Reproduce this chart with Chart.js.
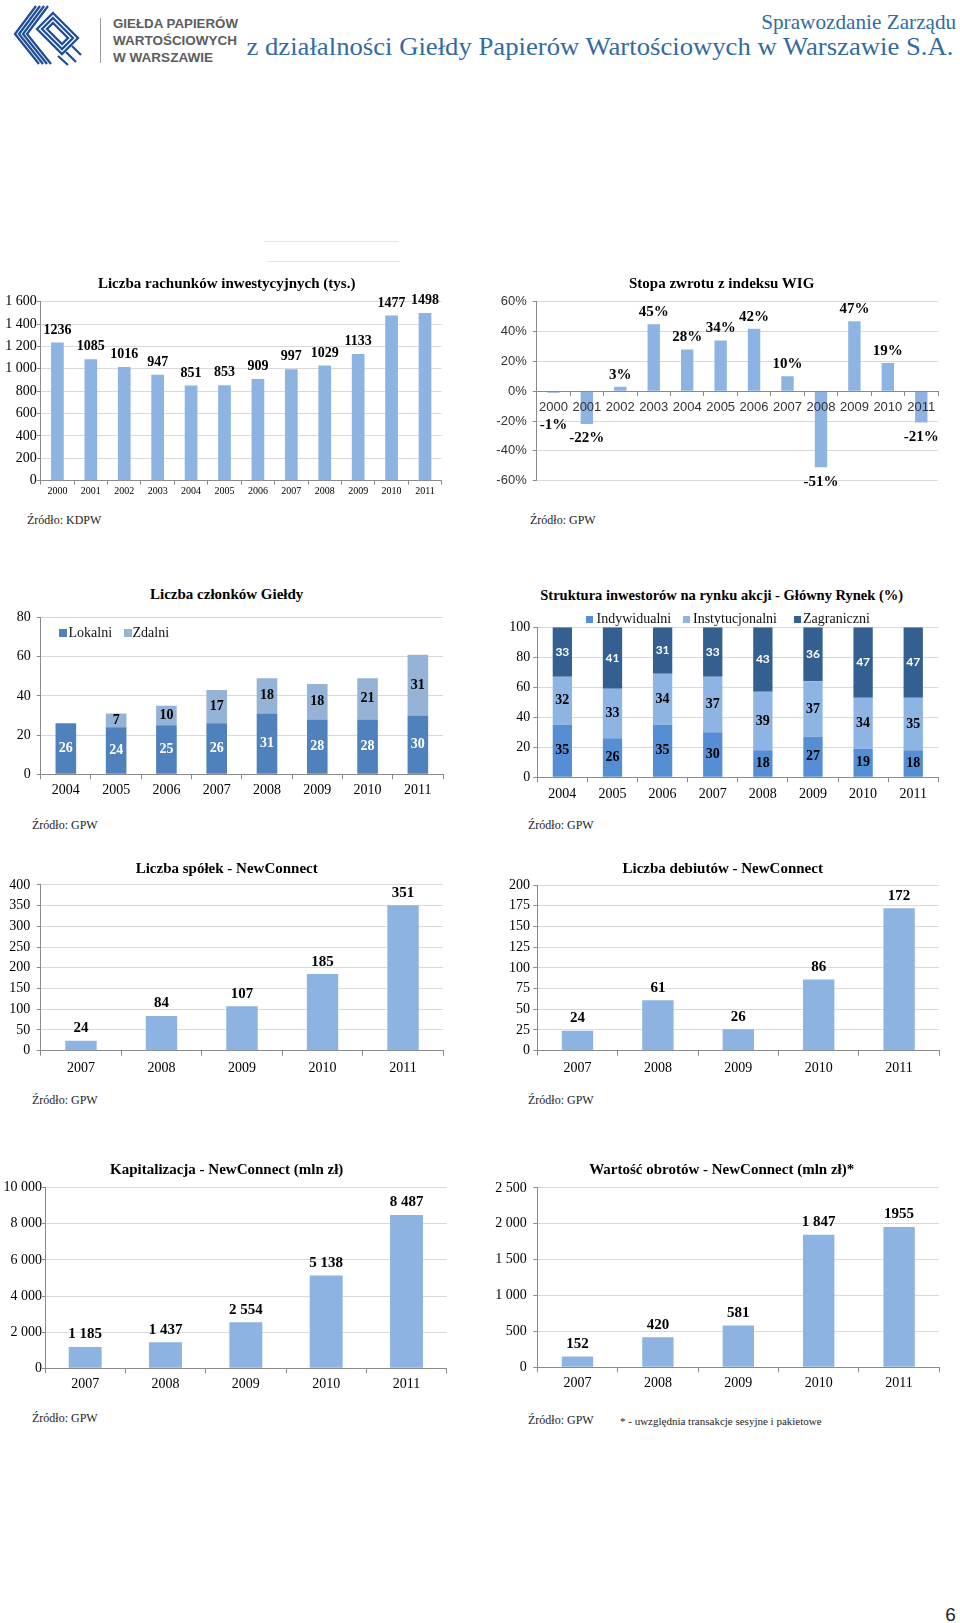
<!DOCTYPE html>
<html>
<head>
<meta charset="utf-8">
<script src="https://cdn.jsdelivr.net/npm/chart.js@4.4.1/dist/chart.umd.min.js"></script>
<style>
html,body{margin:0;padding:0;background:#fff;}
body{width:960px;height:1623px;position:relative;overflow:hidden;font-family:"Liberation Serif",serif;}
canvas{position:absolute;z-index:1;}
.t{position:absolute;white-space:nowrap;z-index:2;line-height:1;}
.sq{position:absolute;z-index:2;}
.hl{position:absolute;z-index:0;height:1px;background:#e4e4e4;}
</style>
</head>
<body>
<svg style="position:absolute;left:6px;top:2px" width="80" height="66" viewBox="0 0 80 66">
  <g fill="none" stroke="#1f4f9a" stroke-width="2.3" stroke-linejoin="miter">
    <polyline points="30,4 9,32 33,62"/>
    <polyline points="34,4 13,32 37,62"/>
    <polyline points="38,4 17,32 41,62"/>
    <polyline points="42,4 21,32 45,62"/>
    <polygon points="47,11 72,36 56,52 31,27"/>
    <polygon points="47,16 67,36 56,47 36,27"/>
    <polygon points="47,21 62,36 56,42 41,27"/>
    <polyline points="52,54 62,63"/>
    <polyline points="60,50 70,60"/>
    <polyline points="66,44 75,53"/>
  </g>
</svg>
<div style="position:absolute;left:100px;top:18px;width:1px;height:45px;background:#9a9a9a"></div>
<div class="hl" style="left:264px;top:241px;width:135px"></div>
<div class="hl" style="left:267px;top:261px;width:133px"></div>
<script>
// ---------------- DATA ----------------
const years2000 = ['2000','2001','2002','2003','2004','2005','2006','2007','2008','2009','2010','2011'];
const rachunkiTys = [1236,1085,1016,947,851,853,909,997,1029,1133,1477,1498];
const stopaZwrotuWIG = [-1,-22,3,45,28,34,42,10,-51,47,19,-21];

const years2004 = ['2004','2005','2006','2007','2008','2009','2010','2011'];
const czlonkowieLokalni = [26,24,25,26,31,28,28,30];
const czlonkowieZdalni = [0,7,10,17,18,18,21,31];

const inwIndywidualni = [35,26,35,30,18,27,19,18];
const inwInstytucjonalni = [32,33,34,37,39,37,34,35];
const inwZagraniczni = [33,41,31,33,43,36,47,47];

const years2007 = ['2007','2008','2009','2010','2011'];
const spolkiNC = [24,84,107,185,351];
const debiutyNC = [24,61,26,86,172];
const kapitalizacjaNC = [1185,1437,2554,5138,8487];
const obrotyNC = [152,420,581,1847,1955];
const obrotyNCLabels = ['152','420','581','1 847','1955'];

// ---------------- HELPERS ----------------
const AXIS = '#8a8a8a', GRID = '#d9d9d9', BAR = '#8db3e2';
const SERIF = '"Liberation Serif","Times New Roman",serif';
const SANS = '"Liberation Sans",Arial,sans-serif';
const spaced = v => String(v).replace(/\B(?=(\d{3})+(?!\d))/g, ' ');

function addText(txt, x, y, css, align, fitW) {
  const d = document.createElement('div');
  d.className = 't';
  d.textContent = txt;
  d.style.cssText += css;
  document.body.appendChild(d);
  const w = d.getBoundingClientRect().width;
  const h = d.getBoundingClientRect().height;
  let left = x;
  if (align === 'center') left = x - w / 2;
  else if (align === 'right') left = x - w;
  d.style.left = left + 'px';
  d.style.top = (y - h / 2) + 'px';
  if (fitW) {
    const k = fitW / w;
    d.style.transformOrigin = align === 'right' ? 'right center' : 'left center';
    d.style.transform = 'scaleX(' + k + ')';
  }
  return d;
}
function addSquare(x, y, s, color) {
  const d = document.createElement('div');
  d.className = 'sq';
  d.style.cssText = `left:${x}px;top:${y - s/2}px;width:${s}px;height:${s}px;background:${color}`;
  document.body.appendChild(d);
}

function labelPlugin(sets) {
  return {
    id: 'valueLabels',
    afterDatasetsDraw(chart) {
      const ctx = chart.ctx;
      const ys = chart.scales.y;
      sets.forEach(s => {
        const meta = chart.getDatasetMeta(s.index);
        const data = chart.data.datasets[s.index].data;
        meta.data.forEach((bar, i) => {
          const v = data[i];
          if (v === 0 || v == null) return;
          const text = s.text ? s.text[i] : s.fmt(v);
          let y;
          if (s.mode === 'center') y = (bar.y + bar.base) / 2;
          else if (v >= 0) y = bar.y - s.gapPos;
          else {
            y = bar.y + s.gapNeg;
            if (s.minBelowZero != null) y = Math.max(y, ys.getPixelForValue(0) + s.minBelowZero);
          }
          ctx.save();
          ctx.font = s.font;
          ctx.fillStyle = s.color;
          ctx.textAlign = 'center';
          ctx.textBaseline = 'middle';
          ctx.fillText(text, bar.x + (s.dx || 0), y);
          ctx.restore();
        });
      });
    }
  };
}

function buildChart(o) {
  const cl = o.cl, cr = o.cr, ct = Math.round(o.plot.t - o.padTop), cb = o.cb;
  const cw = cr - cl, ch = cb - ct;
  const cv = document.createElement('canvas');
  cv.width = cw; cv.height = ch;
  cv.style.cssText = `left:${cl}px;top:${ct}px;width:${cw}px;height:${ch}px`;
  document.body.appendChild(cv);
  const YW = o.plot.l - cl, XH = cb - o.plot.b, PR = cr - o.plot.r, PT = o.plot.t - ct;
  const xf = o.xFont, yf = o.yFont;
  new Chart(cv, {
    type: 'bar',
    data: { labels: o.labels, datasets: o.datasets.map(d => Object.assign({
      barPercentage: o.barPct, categoryPercentage: 1, borderWidth: 0 }, d)) },
    options: {
      responsive: false, animation: false, devicePixelRatio: 1,
      layout: { padding: { top: PT, right: PR, left: 0, bottom: o.zeroAxis ? XH : 0 } },
      plugins: { legend: { display: false }, tooltip: { enabled: false }, title: { display: false } },
      scales: {
        x: {
          stacked: !!o.stacked,
          position: o.zeroAxis ? { y: 0 } : 'bottom',
          offset: true,
          grid: { display: true, drawOnChartArea: false, drawTicks: true, tickLength: o.xTick, tickColor: AXIS, color: AXIS, offset: true, z: o.zeroAxis ? 1 : -1 },
          border: { display: true, color: AXIS, width: 1, z: o.zeroAxis ? 1 : 0 },
          ticks: { font: xf, color: o.xColor || '#000', padding: o.xPad, autoSkip: false, maxRotation: 0, minRotation: 0, z: o.zeroAxis ? 1 : 0 },
          afterFit: o.zeroAxis ? undefined : (s => { s.height = XH; })
        },
        y: {
          stacked: !!o.stacked,
          min: o.yMin, max: o.yMax,
          grid: { color: c => (c.tick && c.tick.value === 0) ? AXIS : GRID, drawTicks: true, tickLength: o.yTick, tickColor: AXIS, lineWidth: 1 },
          border: { display: true, color: AXIS, width: 1 },
          ticks: { stepSize: o.yStep, font: yf, color: o.yColor || '#000', padding: o.yPad, autoSkip: false, callback: o.yFmt },
          afterFit: s => { s.width = YW; }
        }
      }
    },
    plugins: [labelPlugin(o.valueLabels || [])]
  });
}

const TITLE = `font:bold 15px ${SERIF};color:#000;`;
const SRC = `font:12px ${SERIF};color:#222;`;

// ---------------- HEADER ----------------
const GREY = `font:bold 13px ${SANS};color:#5d5d5d;`;
addText('GIEŁDA PAPIERÓW', 113, 23, GREY, 'left', 125);
addText('WARTOŚCIOWYCH', 113, 40, GREY, 'left', 124);
addText('W WARSZAWIE', 113, 57, GREY, 'left', 100);
addText('Sprawozdanie Zarządu', 956, 22, `font:22px ${SERIF};color:#336b9f;`, 'right', 195);
addText('z działalności Giełdy Papierów Wartościowych w Warszawie S.A.', 953, 47, `font:25.5px ${SERIF};color:#336b9f;`, 'right', 707);

// ---------------- CHART 1 ----------------
addText('Liczba rachunków inwestycyjnych (tys.)', 226.7, 283, TITLE, 'center');
buildChart({
  cl: 0, cr: 470, cb: 502, padTop: 14,
  plot: { l: 40.7, t: 301.7, r: 441.7, b: 480.7 },
  labels: years2000,
  datasets: [{ data: rachunkiTys, backgroundColor: BAR }],
  barPct: 0.38,
  yMin: 0, yMax: 1600, yStep: 200, yFmt: v => spaced(v),
  yFont: { family: SERIF, size: 14 }, yTick: 4, yPad: 0,
  xFont: { family: SERIF, size: 10 }, xTick: 4, xPad: 1,
  valueLabels: [{ index: 0, fmt: v => String(v), font: `bold 14px ${SERIF}`, color: '#000', gapPos: 12.5 }]
});
addText('Źródło: KDPW', 27, 520, SRC, 'left');

// ---------------- CHART 2 ----------------
addText('Stopa zwrotu z indeksu WIG', 721.7, 283, TITLE, 'center');
buildChart({
  cl: 480, cr: 960, cb: 496, padTop: 14, zeroAxis: true,
  plot: { l: 536.7, t: 301.7, r: 938, b: 480.7 },
  labels: years2000,
  datasets: [{ data: stopaZwrotuWIG, backgroundColor: BAR }],
  barPct: 0.37,
  yMin: -60, yMax: 60, yStep: 20, yFmt: v => v + '%',
  yFont: { family: SANS, size: 13 }, yColor: '#333', yTick: 4, yPad: 6,
  xFont: { family: SANS, size: 13 }, xColor: '#333', xTick: 4, xPad: 4,
  valueLabels: [{ index: 0, fmt: v => v + '%', font: `bold 15px ${SERIF}`, color: '#000', gapPos: 12, gapNeg: 14.5, minBelowZero: 34 }]
});
addText('Źródło: GPW', 530, 520, SRC, 'left');

// ---------------- CHART 3 ----------------
addText('Liczba członków Giełdy', 226.7, 594, TITLE, 'center');
buildChart({
  cl: 0, cr: 470, cb: 805, padTop: 14, stacked: true,
  plot: { l: 40.7, t: 616.7, r: 443, b: 774.3 },
  labels: years2004,
  datasets: [
    { label: 'Lokalni', data: czlonkowieLokalni, backgroundColor: '#4f81bd' },
    { label: 'Zdalni', data: czlonkowieZdalni, backgroundColor: '#95b3d7' }
  ],
  barPct: 0.41,
  yMin: 0, yMax: 80, yStep: 20, yFmt: v => String(v),
  yFont: { family: SERIF, size: 14 }, yTick: 4, yPad: 6,
  xFont: { family: SERIF, size: 14 }, xTick: 5, xPad: 3,
  valueLabels: [
    { index: 0, mode: 'center', fmt: v => String(v), font: `bold 14px ${SERIF}`, color: '#fff' },
    { index: 1, mode: 'center', fmt: v => String(v), font: `bold 14px ${SERIF}`, color: '#000' }
  ]
});
const LEG = `font:14px ${SERIF};color:#111;`;
addSquare(59, 633, 8, '#4f81bd');
addText('Lokalni', 68.5, 632.7, LEG, 'left');
addSquare(124, 633, 8, '#95b3d7');
addText('Zdalni', 132.5, 632.7, LEG, 'left');
addText('Źródło: GPW', 32, 825, SRC, 'left');

// ---------------- CHART 4 ----------------
addText('Struktura inwestorów na rynku akcji - Główny Rynek (%)', 721.7, 595, `font:bold 14.5px ${SERIF};color:#000;`, 'center');
buildChart({
  cl: 480, cr: 960, cb: 810, padTop: 14, stacked: true,
  plot: { l: 537.3, t: 627.3, r: 938.3, b: 777.3 },
  labels: years2004,
  datasets: [
    { label: 'Indywidualni', data: inwIndywidualni, backgroundColor: '#558ed5' },
    { label: 'Instytucjonalni', data: inwInstytucjonalni, backgroundColor: '#8eb4e3' },
    { label: 'Zagraniczni', data: inwZagraniczni, backgroundColor: '#335f91' }
  ],
  barPct: 0.385,
  yMin: 0, yMax: 100, yStep: 20, yFmt: v => String(v),
  yFont: { family: SERIF, size: 14 }, yTick: 4, yPad: 3,
  xFont: { family: SERIF, size: 14 }, xTick: 5, xPad: 4,
  valueLabels: [
    { index: 0, mode: 'center', fmt: v => String(v), font: `bold 14px ${SERIF}`, color: '#000' },
    { index: 1, mode: 'center', fmt: v => String(v), font: `bold 14px ${SERIF}`, color: '#000' },
    { index: 2, mode: 'center', fmt: v => String(v), font: `bold 12px Lato,"Open Sans",sans-serif`, color: '#fff' }
  ]
});
addSquare(586, 619.3, 7, '#558ed5');
addText('Indywidualni', 596.5, 619.3, LEG, 'left');
addSquare(683, 619.3, 7, '#8eb4e3');
addText('Instytucjonalni', 693, 619.3, LEG, 'left');
addSquare(794, 619.3, 7, '#335f91');
addText('Zagraniczni', 803, 619.3, LEG, 'left');
addText('Źródło: GPW', 528, 825, SRC, 'left');

// ---------------- CHART 5 ----------------
addText('Liczba spółek - NewConnect', 226.7, 868.3, TITLE, 'center');
buildChart({
  cl: 0, cr: 470, cb: 1085, padTop: 14,
  plot: { l: 40.7, t: 884.3, r: 443.3, b: 1050.7 },
  labels: years2007,
  datasets: [{ data: spolkiNC, backgroundColor: BAR }],
  barPct: 0.39,
  yMin: 0, yMax: 400, yStep: 50, yFmt: v => String(v),
  yFont: { family: SERIF, size: 14 }, yTick: 4, yPad: 6.5,
  xFont: { family: SERIF, size: 14 }, xTick: 5, xPad: 4,
  valueLabels: [{ index: 0, fmt: v => String(v), font: `bold 15px ${SERIF}`, color: '#000', gapPos: 12.3 }]
});
addText('Źródło: GPW', 32, 1100, SRC, 'left');

// ---------------- CHART 6 ----------------
addText('Liczba debiutów - NewConnect', 722.7, 868.3, TITLE, 'center');
buildChart({
  cl: 480, cr: 960, cb: 1085, padTop: 14,
  plot: { l: 537.3, t: 885, r: 939.3, b: 1050.7 },
  labels: years2007,
  datasets: [{ data: debiutyNC, backgroundColor: BAR }],
  barPct: 0.39,
  yMin: 0, yMax: 200, yStep: 25, yFmt: v => String(v),
  yFont: { family: SERIF, size: 14 }, yTick: 4, yPad: 3.3,
  xFont: { family: SERIF, size: 14 }, xTick: 5, xPad: 4,
  valueLabels: [{ index: 0, fmt: v => String(v), font: `bold 15px ${SERIF}`, color: '#000', gapPos: 12.3 }]
});
addText('Źródło: GPW', 528, 1100, SRC, 'left');

// ---------------- CHART 7 ----------------
addText('Kapitalizacja - NewConnect (mln zł)', 226.7, 1169.3, TITLE, 'center');
buildChart({
  cl: 0, cr: 470, cb: 1400, padTop: 14,
  plot: { l: 45, t: 1187.7, r: 446.7, b: 1368.3 },
  labels: years2007,
  datasets: [{ data: kapitalizacjaNC, backgroundColor: BAR }],
  barPct: 0.41,
  yMin: 0, yMax: 10000, yStep: 2000, yFmt: v => spaced(v),
  yFont: { family: SERIF, size: 14 }, yTick: 3, yPad: 0,
  xFont: { family: SERIF, size: 14 }, xTick: 5, xPad: 3,
  valueLabels: [{ index: 0, fmt: v => spaced(v), font: `bold 15px ${SERIF}`, color: '#000', gapPos: 12.5 }]
});
addText('Źródło: GPW', 32, 1418, SRC, 'left');

// ---------------- CHART 8 ----------------
addText('Wartość obrotów - NewConnect (mln zł)*', 721.7, 1169.3, TITLE, 'center');
buildChart({
  cl: 480, cr: 960, cb: 1400, padTop: 14,
  plot: { l: 537.3, t: 1186.7, r: 939.3, b: 1367.3 },
  labels: years2007,
  datasets: [{ data: obrotyNC, backgroundColor: BAR }],
  barPct: 0.39,
  yMin: 0, yMax: 2500, yStep: 500, yFmt: v => spaced(v),
  yFont: { family: SERIF, size: 14 }, yTick: 4, yPad: 6.5,
  xFont: { family: SERIF, size: 14 }, xTick: 5, xPad: 2.5,
  valueLabels: [{ index: 0, text: obrotyNCLabels, font: `bold 15px ${SERIF}`, color: '#000', gapPos: 12.5 }]
});
addText('Źródło: GPW', 528, 1420.7, SRC, 'left');
addText('* - uwzględnia transakcje sesyjne i pakietowe', 620, 1420.7, `font:11px ${SERIF};color:#222;`, 'left');

// ---------------- PAGE NUMBER ----------------
addText('6', 950.5, 1615, `font:19px ${SANS};color:#222;`, 'center');
</script>
</body>
</html>
